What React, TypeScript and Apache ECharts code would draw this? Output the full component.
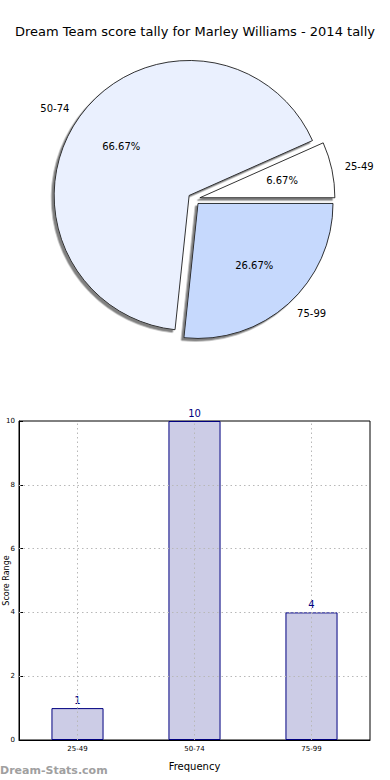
import React, { useEffect, useRef } from 'react';
import * as echarts from 'echarts';

const titleText = 'Dream Team score tally for Marley Williams - 2014 tally';
const categories = ['25-49', '50-74', '75-99'];
const counts = [1, 10, 4];
const sliceColors = ['#ffffff', '#eaf0fe', '#c6d9fd'];
const yTicks = [2, 4, 6, 8];
const xAxisName = 'Frequency';
const yAxisName = 'Score Range';
const watermark = 'Dream-Stats.com';

const FONT = 'DejaVu Sans';

export default function App() {
  const ref = useRef<HTMLDivElement>(null);
  useEffect(() => {
    document.body.style.margin = '0';
    if (!ref.current) return;
    const chart = echarts.init(ref.current, undefined, { renderer: 'svg' });
    const total = counts.reduce((a, b) => a + b, 0);
    const pieData = categories.map((c, i) => ({
      name: c,
      value: counts[i],
      selected: true,
      itemStyle: { color: sliceColors[i] },
      select: { itemStyle: { color: sliceColors[i] } },
    }));
    const pieCenter = [194, 199];
    const R = 135;
    chart.setOption({
      animation: false,
      textStyle: { fontFamily: FONT },
      title: {
        text: titleText,
        left: 'center',
        top: 20,
        textStyle: { fontSize: 13, fontWeight: 'normal', fontFamily: FONT, color: '#000' },
      },
      graphic: [
        {
          type: 'text',
          left: 0,
          top: 765,
          style: { text: watermark, fontSize: 11, fontWeight: 'bold', fill: '#a0a0a0', fontFamily: FONT },
        },
      ],
      grid: {
        left: 19,
        right: 20,
        top: 421,
        bottom: 40,
        show: true,
        borderColor: '#000',
        borderWidth: 1,
        containLabel: false,
        outerBoundsMode: 'none',
      },
      xAxis: {
        type: 'category',
        data: categories,
        name: xAxisName,
        nameLocation: 'middle',
        nameGap: 21,
        nameTextStyle: { fontSize: 10, color: '#000', fontFamily: FONT },
        axisLine: { lineStyle: { color: '#000' } },
        axisTick: { show: true, inside: true, alignWithLabel: true, length: 4, lineStyle: { color: '#000' } },
        axisLabel: { fontSize: 7, color: '#000', margin: 5, fontFamily: FONT },
        splitLine: { show: false },
      },
      yAxis: {
        type: 'value',
        min: 0,
        max: 10,
        interval: 2,
        name: yAxisName,
        nameLocation: 'middle',
        nameGap: 9,
        nameMoveOverlap: false,
        nameTextStyle: { fontSize: 8, color: '#000', fontFamily: FONT },
        axisLine: { show: true, lineStyle: { color: '#000' } },
        axisTick: { show: true, inside: true, length: 4, lineStyle: { color: '#000' } },
        axisLabel: { fontSize: 7, color: '#000', margin: 4, fontFamily: FONT },
        splitLine: { show: false },
      },
      series: [
        {
          type: 'pie',
          center: pieCenter,
          radius: R,
          clockwise: false,
          startAngle: 0,
          selectedMode: 'multiple',
          selectedOffset: 6,
          avoidLabelOverlap: false,
          silent: true,
          emphasis: { disabled: true },
          itemStyle: {
            borderColor: '#000',
            borderWidth: 0.8,
            shadowColor: '#808080',
            shadowBlur: 0,
            shadowOffsetX: -2.5,
            shadowOffsetY: 2.5,
          },
          label: {
            show: true,
            position: 'outside',
            formatter: '{b}',
            fontSize: 10,
            color: '#000',
            fontFamily: FONT,
            distanceToLabelLine: 0,
          },
          labelLine: { show: false, length: 13, length2: 0 },
          data: pieData,
        },
        {
          type: 'pie',
          center: pieCenter,
          radius: [R * 0.2, R],
          clockwise: false,
          startAngle: 0,
          selectedMode: 'multiple',
          selectedOffset: 6,
          avoidLabelOverlap: false,
          silent: true,
          emphasis: { disabled: true },
          itemStyle: { color: 'rgba(0,0,0,0)', borderWidth: 0 },
          label: {
            show: true,
            position: 'inside',
            formatter: (p: any) => ((p.value / total) * 100).toFixed(2) + '%',
            fontSize: 10,
            color: '#000',
            fontFamily: FONT,
          },
          labelLine: { show: false },
          data: categories.map((c, i) => ({
            name: c,
            value: counts[i],
            selected: true,
            itemStyle: { color: 'rgba(0,0,0,0)' },
            select: { itemStyle: { color: 'rgba(0,0,0,0)', borderWidth: 0 } },
          })),
        },
        {
          type: 'bar',
          data: counts,
          barWidth: '44.5%',
          silent: true,
          itemStyle: { color: '#ccccE6', borderColor: '#000080', borderWidth: 1 },
          label: {
            show: true,
            position: 'top',
            distance: 3,
            fontSize: 10,
            color: '#000080',
            fontFamily: FONT,
          },
          markLine: {
            silent: true,
            symbol: 'none',
            label: { show: false },
            lineStyle: { color: '#b8b8b8', type: [1.5, 3], width: 1 },
            emphasis: { disabled: true },
            data: [
              ...categories.map((c) => ({ xAxis: c })),
              ...yTicks.map((v) => ({ yAxis: v })),
            ],
          },
        },
      ],
    });
    return () => chart.dispose();
  }, []);
  return <div ref={ref} style={{ width: 390, height: 780 }} />;
}
